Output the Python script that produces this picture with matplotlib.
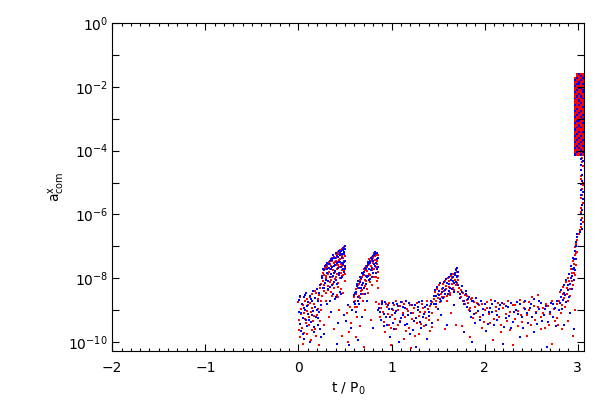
import matplotlib
matplotlib.use("Agg")
import matplotlib.pyplot as plt
from matplotlib.ticker import FixedLocator, FuncFormatter, MultipleLocator, NullLocator
import numpy as np

# ---- data: (t / P0, log10 a) ----
red_points = [
    (0.00,-8.75),(0.01,-9.30),(0.02,-9.85),(0.03,-8.95),(0.04,-9.55),(0.05,-10.05),(0.06,-9.10),(0.07,-8.70),
    (0.08,-9.40),(0.09,-9.75),(0.10,-8.85),(0.11,-9.20),(0.12,-8.60),(0.13,-9.95),(0.14,-9.05),(0.15,-8.50),
    (0.16,-9.35),(0.17,-8.80),(0.18,-9.60),(0.19,-8.45),(0.20,-9.15),(0.21,-8.65),(0.22,-10.10),(0.23,-8.30),
    (0.24,-9.00),(0.25,-8.55),
    (0.26,-8.10),(0.27,-7.90),(0.28,-8.40),(0.29,-7.70),(0.30,-8.00),(0.31,-7.65),(0.32,-8.25),(0.33,-7.80),
    (0.34,-7.55),(0.35,-8.05),(0.36,-7.45),(0.37,-7.75),(0.38,-8.30),(0.39,-7.50),(0.40,-7.95),(0.40,-7.35),
    (0.41,-7.70),(0.42,-8.15),(0.43,-7.25),(0.43,-7.60),(0.44,-7.85),(0.45,-7.40),(0.45,-8.00),(0.46,-7.15),
    (0.46,-7.55),(0.47,-7.75),(0.47,-7.30),(0.48,-7.05),(0.48,-7.90),(0.49,-7.45),(0.49,-7.20),(0.50,-7.65),
    (0.50,-8.10),(0.36,-8.55),(0.42,-8.60),(0.30,-8.70),(0.33,-9.20),(0.38,-9.60),(0.44,-9.00),(0.48,-8.45),
    (0.27,-9.45),(0.47,-9.80),
    (0.52,-9.10),(0.54,-9.70),(0.55,-8.90),(0.57,-9.40),(0.53,-10.00),
    (0.60,-8.60),(0.61,-8.90),(0.62,-8.35),(0.63,-9.20),(0.64,-8.20),(0.65,-8.55),(0.66,-8.05),(0.67,-8.40),
    (0.68,-7.95),(0.69,-8.70),(0.70,-7.90),(0.71,-8.25),(0.72,-7.75),(0.73,-8.10),(0.74,-7.65),(0.75,-8.45),
    (0.76,-7.55),(0.77,-7.90),(0.78,-7.45),(0.79,-8.20),(0.80,-7.35),(0.81,-7.70),(0.82,-7.30),(0.83,-7.95),
    (0.84,-7.20),(0.84,-7.55),(0.85,-8.30),(0.85,-7.80),(0.66,-9.50),(0.72,-9.00),(0.78,-9.30),(0.83,-8.75),
    (0.62,-9.85),(0.70,-10.15),
    (0.87,-8.80),(0.89,-9.30),(0.91,-9.05),(0.93,-9.70),(0.95,-8.90),(0.97,-9.45),(0.99,-10.10),(1.01,-9.15),
    (1.03,-8.85),(1.05,-9.60),(1.07,-9.00),(1.09,-9.35),(1.11,-8.75),(1.13,-9.90),(1.15,-9.20),(1.17,-8.95),
    (1.19,-9.55),(1.21,-10.20),(1.23,-9.10),(1.25,-8.85),(1.27,-9.40),(1.29,-9.75),(1.31,-9.05),(1.33,-8.80),
    (1.35,-9.50),(1.37,-9.25),(1.39,-8.95),(1.41,-9.65),(1.43,-9.10),(1.44,-8.75),
    (1.46,-8.65),(1.48,-8.90),(1.50,-8.50),(1.52,-8.75),(1.54,-8.35),(1.56,-8.60),(1.58,-8.25),(1.60,-8.55),
    (1.62,-8.10),(1.63,-8.45),(1.65,-8.00),(1.66,-8.30),(1.68,-7.85),(1.69,-8.20),(1.70,-7.80),(1.71,-8.05),
    (1.50,-9.30),(1.57,-9.60),(1.64,-9.10),(1.69,-9.45),
    (1.73,-8.30),(1.75,-8.60),(1.77,-8.45),(1.79,-8.80),(1.81,-8.55),(1.83,-9.00),(1.85,-8.65),(1.87,-9.25),
    (1.89,-8.75),(1.76,-9.50),(1.84,-9.85),
    (1.91,-9.10),(1.94,-8.85),(1.97,-9.55),(2.00,-9.00),(2.03,-8.75),(2.06,-9.40),(2.09,-9.95),(2.12,-8.90),
    (2.15,-9.20),(2.18,-9.70),(2.21,-8.80),(2.24,-9.35),(2.27,-9.05),(2.30,-10.10),(2.33,-8.85),(2.36,-9.50),
    (2.39,-9.15),(2.42,-8.75),(2.45,-9.80),(2.48,-9.00),(2.51,-8.60),(2.54,-9.30),(2.57,-8.90),(2.60,-9.60),
    (2.63,-9.10),(2.66,-8.80),(2.69,-9.45),(2.72,-10.05),(2.75,-8.95),(2.78,-9.25),
    (2.80,-8.70),(2.82,-9.10),(2.84,-8.50),(2.86,-8.90),(2.88,-8.30),(2.89,-8.70),(2.91,-8.10),(2.92,-8.55),
    (2.94,-7.85),(2.95,-8.20),(2.96,-7.55),(2.97,-7.90),(2.98,-7.20),(2.98,-7.60),(2.83,-9.60),(2.90,-9.35),
    (2.95,-9.80),(2.97,-9.00),
    (3.03,-6.40),(3.05,-6.10),(3.04,-5.80),(3.03,-5.50),(3.05,-5.20),(3.04,-4.90),(3.03,-4.60),(3.05,-4.35),
    (2.99,-6.80),(3.01,-6.60),(3.06,-5.65),(3.06,-5.00),
    (3.045,-4.22),(3.055,-4.48),(3.035,-4.78),(3.055,-5.08),(3.045,-5.38),(3.035,-5.92),(3.055,-6.25),(3.025,-6.48),
]

red_points_more = [
    (0.003,-9.62),(0.018,-8.58),(0.027,-9.12),(0.044,-8.83),(0.061,-9.71),(0.072,-9.28),(0.088,-8.64),(0.097,-9.02),
    (0.113,-9.48),(0.128,-8.77),(0.142,-9.63),(0.151,-8.92),(0.168,-9.18),(0.177,-8.41),(0.193,-9.81),(0.208,-8.96),
    (0.219,-8.52),(0.231,-9.33),(0.247,-8.18),(0.238,-8.71),
    (0.262,-7.82),(0.271,-8.21),(0.283,-7.66),(0.291,-8.47),(0.298,-7.93),(0.307,-7.58),(0.318,-7.88),(0.322,-8.38),
    (0.331,-7.49),(0.339,-8.12),(0.343,-7.71),(0.352,-7.62),(0.358,-7.97),(0.363,-7.38),(0.371,-8.18),(0.377,-7.52),
    (0.383,-7.33),(0.388,-7.79),(0.394,-8.02),(0.402,-7.46),(0.408,-7.24),(0.413,-7.88),(0.419,-7.57),(0.424,-7.18),
    (0.428,-8.28),(0.437,-7.42),(0.441,-7.66),(0.448,-7.12),(0.452,-7.83),(0.458,-7.27),(0.463,-7.61),(0.468,-7.08),
    (0.472,-7.92),(0.478,-7.37),(0.482,-7.58),(0.488,-7.01),(0.492,-7.74),(0.497,-7.31),(0.503,-7.88),(0.456,-8.35),
    (0.418,-8.51),(0.388,-8.66),(0.355,-8.44),
    (0.604,-8.72),(0.617,-8.48),(0.628,-8.91),(0.637,-8.31),(0.652,-8.18),(0.659,-8.62),(0.671,-8.02),(0.678,-8.37),
    (0.689,-7.91),(0.698,-8.48),(0.707,-7.72),(0.718,-8.05),(0.726,-7.62),(0.733,-8.33),(0.741,-7.78),(0.749,-7.58),
    (0.758,-7.86),(0.763,-7.41),(0.771,-8.12),(0.779,-7.62),(0.788,-7.33),(0.793,-7.74),(0.802,-7.52),(0.809,-7.22),
    (0.816,-7.96),(0.823,-7.43),(0.829,-7.66),(0.837,-7.28),(0.842,-8.08),(0.848,-7.47),(0.853,-7.26),(0.858,-7.98),
    (0.872,-9.22),(0.886,-8.93),(0.903,-8.71),(0.921,-9.38),(0.938,-8.82),(0.957,-9.12),(0.973,-8.78),(0.991,-9.56),
    (1.018,-8.98),(1.036,-9.27),(1.052,-8.72),(1.074,-9.48),(1.093,-8.88),(1.118,-9.08),(1.137,-8.82),(1.158,-9.66),
    (1.176,-9.02),(1.197,-8.83),(1.216,-9.28),(1.238,-8.93),(1.256,-9.82),(1.276,-8.78),(1.297,-9.18),(1.318,-9.42),
    (1.336,-8.92),(1.358,-9.07),(1.376,-8.71),(1.398,-9.32),(1.417,-8.86),(1.436,-9.52),
    (1.463,-8.42),(1.477,-8.71),(1.488,-8.33),(1.503,-8.62),(1.512,-8.22),(1.527,-8.48),(1.538,-8.58),(1.548,-8.18),
    (1.563,-8.41),(1.572,-8.08),(1.586,-8.33),(1.597,-8.71),(1.608,-7.98),(1.617,-8.28),(1.627,-8.52),(1.638,-7.93),
    (1.652,-8.18),(1.661,-7.88),(1.672,-8.38),(1.683,-8.06),(1.692,-7.71),(1.703,-8.15),(1.712,-7.92),(1.718,-8.42),
    (1.742,-8.38),(1.763,-8.72),(1.786,-8.52),(1.807,-8.68),(1.826,-8.78),(1.847,-8.93),(1.868,-8.62),(1.893,-8.91),
    (1.918,-8.76),(1.946,-9.22),(1.972,-8.82),(1.996,-9.38),(2.022,-8.93),(2.047,-9.12),(2.071,-8.68),(2.098,-9.28),
    (2.122,-9.02),(2.148,-8.76),(2.173,-9.46),(2.199,-8.94),(2.226,-9.12),(2.252,-8.72),(2.277,-9.62),(2.302,-8.83),
    (2.327,-9.27),(2.353,-9.02),(2.377,-8.68),(2.402,-9.38),(2.428,-8.92),(2.453,-9.16),(2.478,-8.74),(2.503,-9.48),
    (2.528,-8.88),(2.553,-9.06),(2.578,-8.52),(2.603,-9.22),(2.628,-8.92),(2.652,-9.57),(2.677,-8.86),(2.703,-9.12),
    (2.727,-8.72),(2.752,-9.33),(2.776,-8.82),(2.792,-9.46),
    (2.812,-8.42),(2.826,-8.83),(2.843,-8.27),(2.857,-8.62),(2.871,-8.12),(2.884,-8.48),(2.897,-7.98),(2.912,-8.33),
    (2.926,-7.72),(2.938,-8.08),(2.949,-7.46),(2.958,-7.82),(2.967,-7.28),(2.974,-7.02),(2.982,-6.92),(2.991,-7.18),
]

blue_points = [
    (0.005,-9.05),(0.015,-8.55),(0.025,-9.65),(0.035,-8.80),(0.045,-9.25),(0.055,-8.60),(0.065,-9.90),(0.075,-9.00),
    (0.085,-8.45),(0.095,-9.50),(0.105,-8.75),(0.115,-9.30),(0.125,-10.00),(0.135,-8.65),(0.145,-9.15),(0.155,-8.40),
    (0.165,-9.70),(0.175,-8.90),(0.185,-9.20),(0.195,-8.35),(0.205,-9.45),(0.215,-8.70),(0.225,-9.05),(0.235,-8.20),
    (0.245,-9.85),
    (0.255,-8.00),(0.265,-8.30),(0.275,-7.75),(0.285,-8.15),(0.295,-7.60),(0.305,-7.85),(0.315,-8.35),(0.325,-7.55),
    (0.335,-7.95),(0.345,-7.40),(0.355,-7.70),(0.365,-8.20),(0.375,-7.35),(0.385,-7.85),(0.395,-7.60),(0.405,-8.05),
    (0.415,-7.30),(0.425,-7.50),(0.435,-7.90),(0.445,-7.20),(0.455,-7.65),(0.465,-7.35),(0.465,-7.95),(0.475,-7.10),
    (0.475,-7.55),(0.485,-7.80),(0.485,-7.25),(0.495,-7.00),(0.495,-7.45),(0.505,-7.70),(0.31,-8.80),(0.35,-9.05),
    (0.39,-8.65),(0.43,-9.40),(0.46,-8.50),(0.49,-9.15),(0.28,-9.75),(0.41,-10.05),
    (0.515,-9.35),(0.535,-8.85),(0.56,-9.55),(0.58,-9.00),(0.545,-10.10),
    (0.595,-8.75),(0.605,-8.45),(0.615,-9.05),(0.625,-8.25),(0.635,-8.60),(0.645,-8.10),(0.655,-8.80),(0.665,-7.95),
    (0.675,-8.30),(0.685,-7.85),(0.695,-8.15),(0.705,-7.80),(0.715,-8.50),(0.725,-7.70),(0.735,-7.95),(0.745,-7.55),
    (0.755,-8.05),(0.765,-7.45),(0.775,-7.75),(0.785,-7.40),(0.795,-7.95),(0.805,-7.30),(0.815,-7.55),(0.825,-7.25),
    (0.835,-7.85),(0.845,-7.40),(0.855,-7.65),(0.68,-9.20),(0.74,-8.70),(0.80,-9.55),(0.85,-9.00),(0.64,-9.95),
    (0.88,-9.05),(0.90,-8.75),(0.92,-9.50),(0.94,-9.20),(0.96,-8.85),(0.98,-9.85),(1.00,-8.95),(1.02,-9.40),
    (1.04,-9.10),(1.06,-8.80),(1.08,-10.00),(1.10,-9.25),(1.12,-8.90),(1.14,-9.45),(1.16,-8.70),(1.18,-9.15),
    (1.20,-9.75),(1.22,-8.85),(1.24,-9.35),(1.26,-10.15),(1.28,-9.00),(1.30,-8.75),(1.32,-9.55),(1.34,-9.20),
    (1.36,-8.90),(1.38,-9.90),(1.40,-9.05),(1.42,-8.80),(1.44,-9.40),
    (1.455,-8.80),(1.475,-8.55),(1.495,-8.95),(1.515,-8.40),(1.535,-8.70),(1.555,-8.30),(1.575,-8.50),(1.595,-8.15),
    (1.615,-8.40),(1.635,-8.05),(1.645,-8.35),(1.655,-7.95),(1.675,-8.15),(1.685,-7.90),(1.695,-7.75),(1.705,-7.95),
    (1.715,-7.80),(1.53,-9.15),(1.60,-9.45),(1.67,-8.85),
    (1.735,-8.50),(1.755,-8.25),(1.775,-8.70),(1.795,-8.40),(1.815,-8.90),(1.835,-8.60),(1.855,-9.20),(1.875,-8.70),
    (1.895,-9.40),(1.78,-9.70),(1.86,-10.00),
    (1.925,-8.80),(1.955,-9.30),(1.985,-8.95),(2.015,-9.65),(2.045,-9.05),(2.075,-8.80),(2.105,-9.45),(2.135,-9.15),
    (2.165,-8.85),(2.195,-10.05),(2.225,-9.25),(2.255,-8.90),(2.285,-9.55),(2.315,-9.05),(2.345,-8.75),(2.375,-9.85),
    (2.405,-9.20),(2.435,-8.95),(2.465,-9.40),(2.495,-8.80),(2.525,-9.70),(2.555,-9.10),(2.585,-8.70),(2.615,-9.35),
    (2.645,-8.95),(2.675,-10.15),(2.705,-9.05),(2.735,-8.80),(2.765,-9.50),(2.795,-9.00),
    (2.815,-8.60),(2.835,-8.95),(2.855,-8.45),(2.875,-8.75),(2.895,-8.20),(2.905,-8.60),(2.925,-8.00),(2.935,-8.35),
    (2.945,-7.70),(2.955,-8.05),(2.965,-7.40),(2.975,-7.75),(2.985,-7.00),(2.985,-7.40),(2.85,-9.45),(2.92,-9.10),
    (2.96,-9.60),(2.99,-6.70),
    (3.04,-6.30),(3.03,-6.00),(3.05,-5.70),(3.04,-5.40),(3.03,-5.05),(3.05,-4.75),(3.04,-4.45),(3.03,-4.25),
    (3.02,-6.55),(3.06,-5.30),(3.05,-6.45),
    (3.055,-4.32),(3.035,-4.62),(3.045,-4.95),(3.035,-5.22),(3.055,-5.52),(3.045,-5.85),(3.035,-6.18),
]

blue_points_more = [
    (0.008,-8.68),(0.021,-9.42),(0.033,-9.08),(0.049,-9.76),(0.058,-8.92),(0.069,-8.52),(0.081,-9.32),(0.093,-8.88),
    (0.108,-9.11),(0.121,-8.57),(0.133,-9.38),(0.147,-8.72),(0.159,-9.02),(0.171,-9.52),(0.182,-8.62),(0.198,-8.98),
    (0.211,-9.26),(0.223,-8.47),(0.234,-9.58),(0.244,-8.83),
    (0.258,-7.92),(0.267,-7.71),(0.279,-8.32),(0.288,-7.62),(0.296,-8.06),(0.303,-7.72),(0.312,-7.52),(0.319,-8.08),
    (0.328,-7.68),(0.336,-7.46),(0.341,-8.26),(0.348,-7.86),(0.356,-7.42),(0.361,-7.64),(0.368,-7.92),(0.374,-7.28),
    (0.381,-7.61),(0.386,-8.12),(0.392,-7.38),(0.398,-7.78),(0.404,-7.22),(0.411,-7.52),(0.416,-8.18),(0.421,-7.34),
    (0.427,-7.68),(0.432,-7.16),(0.439,-7.82),(0.444,-7.48),(0.449,-7.28),(0.454,-7.98),(0.461,-7.14),(0.466,-7.52),
    (0.471,-7.24),(0.477,-7.72),(0.481,-7.04),(0.487,-7.48),(0.491,-7.18),(0.498,-7.62),(0.502,-7.08),(0.443,-8.42),
    (0.401,-8.58),(0.372,-8.48),(0.334,-8.72),
    (0.598,-8.52),(0.611,-8.82),(0.622,-8.42),(0.632,-8.18),(0.641,-8.71),(0.648,-8.32),(0.662,-8.12),(0.668,-8.48),
    (0.676,-7.98),(0.683,-8.22),(0.693,-7.86),(0.702,-8.32),(0.711,-7.68),(0.722,-7.92),(0.729,-8.18),(0.738,-7.62),
    (0.744,-7.92),(0.752,-7.48),(0.761,-7.72),(0.768,-8.02),(0.774,-7.52),(0.782,-7.38),(0.791,-7.68),(0.798,-7.46),
    (0.806,-7.84),(0.812,-7.28),(0.819,-7.62),(0.826,-7.18),(0.833,-7.52),(0.841,-7.22),(0.847,-7.72),(0.856,-7.36),
    (0.868,-8.92),(0.882,-9.32),(0.898,-8.82),(0.916,-9.12),(0.934,-8.73),(0.952,-9.48),(0.969,-8.96),(0.987,-9.22),
    (1.012,-8.78),(1.031,-9.58),(1.048,-9.02),(1.068,-8.86),(1.087,-9.36),(1.106,-8.74),(1.128,-9.16),(1.146,-8.94),
    (1.167,-9.42),(1.186,-8.78),(1.207,-9.08),(1.228,-9.62),(1.247,-8.83),(1.266,-9.26),(1.287,-8.91),(1.307,-9.36),
    (1.326,-8.72),(1.347,-9.12),(1.367,-9.48),(1.386,-8.84),(1.407,-9.18),(1.428,-8.71),
    (1.458,-8.56),(1.468,-8.38),(1.482,-8.82),(1.492,-8.26),(1.507,-8.52),(1.518,-8.66),(1.523,-8.16),(1.542,-8.42),
    (1.552,-8.62),(1.567,-8.12),(1.578,-8.36),(1.589,-8.02),(1.602,-8.48),(1.612,-8.18),(1.622,-7.96),(1.632,-8.32),
    (1.642,-7.86),(1.657,-8.08),(1.666,-8.42),(1.678,-7.82),(1.688,-8.12),(1.698,-7.92),(1.708,-7.68),(1.716,-8.22),
    (1.738,-8.62),(1.758,-8.42),(1.782,-8.82),(1.803,-8.48),(1.822,-8.66),(1.843,-9.02),(1.862,-8.72),(1.884,-9.12),
    (1.907,-8.62),(1.932,-9.02),(1.958,-8.72),(1.981,-9.16),(2.006,-8.82),(2.032,-9.42),(2.057,-8.93),(2.082,-9.06),
    (2.108,-8.72),(2.132,-9.32),(2.157,-8.96),(2.182,-8.78),(2.208,-9.52),(2.233,-8.88),(2.258,-9.18),(2.283,-8.76),
    (2.308,-9.36),(2.333,-8.98),(2.358,-9.12),(2.383,-8.82),(2.408,-9.56),(2.433,-8.72),(2.458,-9.08),(2.483,-8.93),
    (2.508,-9.22),(2.533,-8.66),(2.558,-9.42),(2.583,-8.96),(2.608,-8.78),(2.633,-9.16),(2.658,-8.88),(2.683,-9.36),
    (2.708,-8.76),(2.733,-9.22),(2.758,-8.93),(2.782,-8.72),
    (2.807,-8.76),(2.821,-8.36),(2.838,-8.68),(2.848,-8.22),(2.863,-8.52),(2.878,-8.04),(2.891,-8.38),(2.903,-7.86),
    (2.917,-8.18),(2.931,-7.62),(2.942,-7.94),(2.952,-7.36),(2.962,-7.68),(2.971,-7.14),(2.978,-6.86),(2.994,-6.62),
]

# dense block near t ~ 3: column positions, row values, colour of each cell (R red, B blue, . empty)
block_t = [2.980, 3.000, 3.020, 3.040, 3.058]
block_loga = [-1.60,-1.66,-1.73,-1.79,-1.86,-1.92,-1.99,-2.05,-2.12,-2.18,-2.25,-2.31,-2.38,-2.44,-2.51,-2.57,
              -2.64,-2.70,-2.77,-2.83,-2.90,-2.96,-3.03,-3.09,-3.16,-3.22,-3.29,-3.35,-3.42,-3.48,-3.55,-3.61,
              -3.68,-3.74,-3.81,-3.87,-3.94,-4.00,-4.07,-4.13]
block_colour = [".RBRR",".RRBR","RBRRB","BRRBR","RRBRR","RBBRB","BRRRR","RRBBR","RBRRB","BRRRB",
                "RRBRR","RBRBR","BRRRB","RRBRR","RRRBR","BRBRR","RRRRB","RBRRR","BRRBR","RRBRR",
                "RBRRB","BRRBR","RRRRB","RBBRR","BRRRB","RRBRR","RBRBR","BRRRR","RRBRB","RBRRR",
                "BRRBR","RRBRR","RBRRB","BRRBR","RRBRR","RBRRB","BRBRR","RRRBR","RBRRB","BRRBR"]

x_ticks = [-2, -1, 0, 1, 2, 3]
y_label_exps = [0, -2, -4, -6, -8, -10]

# ---- assemble ----
reds = red_points + red_points_more
blues = blue_points + blue_points_more
rt = [p[0] for p in reds]; rl = [p[1] for p in reds]
bt = [p[0] for p in blues]; bl = [p[1] for p in blues]
kt, kl, kc = [], [], []
for row, code in zip(block_loga, block_colour):
    for t, c in zip(block_t, code):
        if c in "RB":
            kt.append(t); kl.append(row)
            kc.append("#ff0000" if c == "R" else "#0000ff")

fig = plt.figure(figsize=(6, 4), dpi=100)
ax = fig.add_axes([0.187, 0.1225, 0.786, 0.82])

ms = 2.6
ax.scatter(rt, np.power(10.0, rl), s=ms, marker="s", c="#ff0000", linewidths=0)
ax.scatter(bt, np.power(10.0, bl), s=ms, marker="s", c="#0000ff", linewidths=0)
ax.scatter(kt, np.power(10.0, kl), s=4.0, marker="s", c=kc, linewidths=0)

ax.set_yscale("log")
ax.set_xlim(-2, 3.065)
ax.set_ylim(10 ** -10.28, 1.0)

ax.xaxis.set_major_locator(FixedLocator(x_ticks))
ax.xaxis.set_minor_locator(MultipleLocator(0.1))
ax.xaxis.set_major_formatter(FuncFormatter(lambda v, p: ("%d" % round(v)).replace("-", "\u2212")))
ax.yaxis.set_major_locator(FixedLocator([10.0 ** e for e in range(0, -11, -1)]))
ax.yaxis.set_minor_locator(NullLocator())
ax.yaxis.set_major_formatter(FuncFormatter(
    lambda v, p: (r"$10^{%d}$" % round(np.log10(v))) if round(np.log10(v)) in y_label_exps else ""))

ax.tick_params(which="both", direction="in", top=True, right=True, width=0.8, colors="black",
               labelsize=10)
ax.tick_params(axis="x", which="major", length=5, pad=7)
ax.tick_params(axis="x", which="minor", length=2.5)
ax.tick_params(axis="y", which="major", length=5, pad=3)
for s in ax.spines.values():
    s.set_linewidth(0.8)

ax.set_xlabel(r"t / P$_0$", fontsize=10, labelpad=4)
ax.set_ylabel(r"a$^{\mathrm{x}}_{\mathrm{com}}$", fontsize=10)
ax.yaxis.set_label_coords(-0.095, 0.5)

fig.savefig("out.png", dpi=100)
